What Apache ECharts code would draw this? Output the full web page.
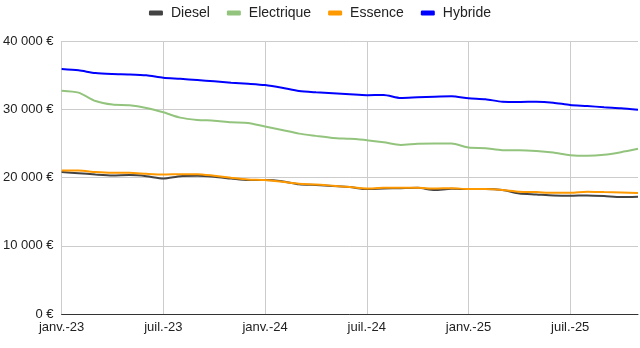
<!DOCTYPE html>
<html>
<head>
<meta charset="utf-8">
<script src="https://cdn.jsdelivr.net/npm/echarts@6/dist/echarts.min.js"></script>
<style>html,body{margin:0;padding:0;background:#fff;}#c{width:640px;height:348px;}</style>
</head>
<body>
<div id="c"></div>
<script>
var months = ['janv.','févr.','mars','avr.','mai','juin','juil.','août','sept.','oct.','nov.','déc.'];
var categories = [];
for (var y = 23; y <= 25; y++) { for (var m = 0; m < 12; m++) { categories.push(months[m] + '-' + y); } }
categories = categories.slice(0, 35);

var diesel = [20790,20640,20440,20300,20350,20200,19850,20200,20250,20100,19850,19620,19620,19450,19000,18900,18750,18600,18300,18390,18440,18490,18160,18350,18300,18300,18160,17660,17520,17370,17320,17370,17280,17130,17180];
var electrique = [32720,32430,31210,30680,30580,30190,29560,28770,28440,28330,28100,28000,27460,26970,26430,26100,25800,25660,25470,25170,24780,24930,24970,24970,24390,24300,24010,24010,23900,23660,23270,23170,23320,23710,24200];
var essence = [21020,21020,20790,20690,20690,20540,20440,20490,20490,20250,19960,19710,19620,19370,19080,18980,18790,18600,18390,18490,18490,18490,18390,18440,18300,18300,18160,17910,17860,17760,17760,17910,17860,17810,17720];
var hybride = [35890,35700,35300,35160,35100,34970,34620,34470,34280,34090,33890,33740,33550,33160,32680,32480,32340,32190,32050,32090,31650,31750,31840,31890,31600,31460,31110,31070,31110,30970,30630,30480,30290,30150,29940];
var yTicks = [0, 10000, 20000, 30000, 40000];

var names = ['Diesel','Electrique','Essence','Hybride'];
var values = [diesel, electrique, essence, hybride];
var colors = ['#434343','#93c47d','#ff9900','#0000ff'];

function fmt(v) { return String(v).replace(/\B(?=(\d{3})+(?!\d))/g, ' ') + ' €'; }

var chart = echarts.init(document.getElementById('c'), null, {renderer: 'canvas'});
chart.setOption({
  animation: false,
  textStyle: {fontFamily: 'Liberation Sans, Arial, sans-serif'},
  legend: {
    top: 1, left: 'center',
    itemWidth: 14, itemHeight: 5, itemGap: 17,
    icon: 'roundRect',
    textStyle: {fontSize: 14, color: '#222', padding: [0, 0, 0, 3], fontFamily: 'Liberation Sans, Arial, sans-serif'},
    data: names
  },
  grid: {left: 61, right: 2, top: 41, bottom: 34, containLabel: false},
  xAxis: {
    type: 'category', boundaryGap: false, data: categories,
    axisLine: {show: true, lineStyle: {color: '#333', width: 1}},
    axisTick: {show: false},
    axisLabel: {interval: 5, color: '#222', fontSize: 13, margin: 7, fontFamily: 'Liberation Sans, Arial, sans-serif'},
    splitLine: {show: true, interval: 5, lineStyle: {color: '#cccccc', width: 1}}
  },
  yAxis: {
    type: 'value', min: yTicks[0], max: yTicks[yTicks.length-1], interval: 10000,
    axisLine: {show: false}, axisTick: {show: false},
    axisLabel: {color: '#222', fontSize: 13, margin: 8, formatter: fmt, fontFamily: 'Liberation Sans, Arial, sans-serif'},
    splitLine: {lineStyle: {color: '#cccccc', width: 1}}
  },
  series: names.map(function (n, i) {
    return {
      name: n, type: 'line', data: values[i], smooth: 0.25,
      showSymbol: false, symbol: 'none',
      lineStyle: {color: colors[i], width: 2},
      itemStyle: {color: colors[i]}
    };
  })
});
</script>
</body>
</html>
